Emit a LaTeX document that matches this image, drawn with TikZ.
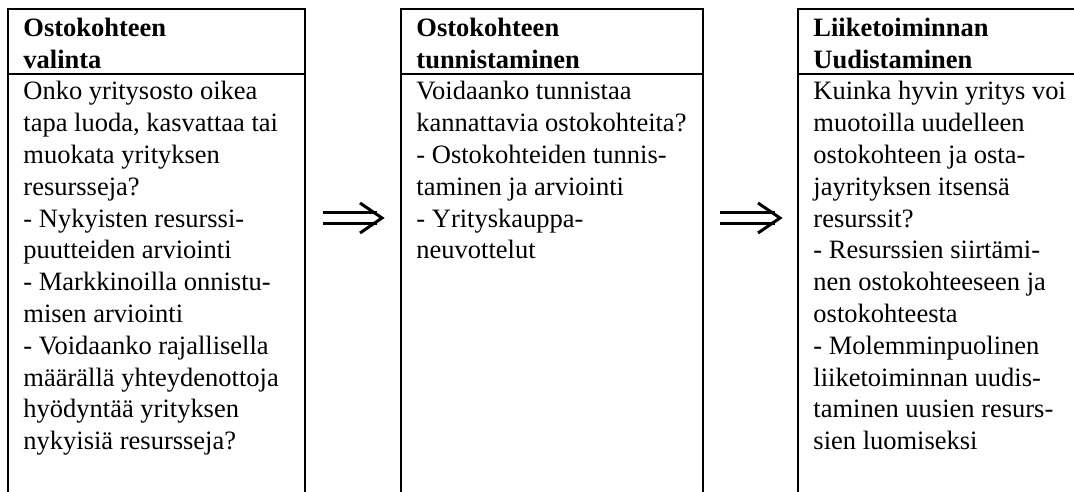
\documentclass[tikz,border=0pt]{standalone}
\usepackage{fontspec}
\setmainfont{Liberation Serif}
\usetikzlibrary{calc}
\newcommand{\cellcol}[1]{\begin{tabular}[t]{@{}l@{}}#1\end{tabular}}
\begin{document}
\begin{tikzpicture}[x=0.4529pt,y=-0.4529pt,
  frame/.style={line width=0.9pt,line cap=rect},
  headtext/.style={anchor=base west,inner sep=0pt,font=\fontsize{12pt}{14.4pt}\selectfont\bfseries},
  bodytext/.style={anchor=base west,inner sep=0pt,font=\fontsize{12pt}{14.4pt}\selectfont},
  shaft/.style={double,double distance=3.2pt,line width=1.36pt},
  chevron/.style={line width=1.36pt,line join=miter}]
\clip (0,0) rectangle (1074,491);
% frames
\draw[frame] (8,500) -- (8,9) -- (305,9) -- (305,500);
\draw[frame] (8,74) -- (305,74);
\draw[frame] (401,500) -- (401,9) -- (703,9) -- (703,500);
\draw[frame] (401,74) -- (703,74);
\draw[frame] (798,500) -- (798,9) -- (1090,9);
\draw[frame] (798,74) -- (1090,74);
% headers
\node[headtext] (h1) at (23,37) {\cellcol{Ostokohteen\\valinta}};
\node[headtext] (h2) at (416,37) {\cellcol{Ostokohteen\\tunnistaminen}};
\node[headtext] (h3) at (813,37) {\cellcol{Liiketoiminnan\\Uudistaminen}};
% bodies
\node[bodytext] (b1) at (23,100) {\cellcol{Onko yritysosto oikea\\tapa luoda, kasvattaa tai\\muokata yrityksen\\resursseja?\\- Nykyisten resurssi-\\puutteiden arviointi\\- Markkinoilla onnistu-\\misen arviointi\\- Voidaanko rajallisella\\määrällä yhteydenottoja\\hyödyntää yrityksen\\nykyisiä resursseja?}};
\node[bodytext] (b2) at (416,100) {\cellcol{Voidaanko tunnistaa\\kannattavia ostokohteita?\\- Ostokohteiden tunnis-\\taminen ja arviointi\\- Yrityskauppa-\\neuvottelut}};
\node[bodytext] (b3) at (813,100) {\cellcol{Kuinka hyvin yritys voi\\muotoilla uudelleen\\ostokohteen ja osta-\\jayrityksen itsensä\\resurssit?\\- Resurssien siirtämi-\\nen ostokohteeseen ja\\ostokohteesta\\- Molemminpuolinen\\liiketoiminnan uudis-\\taminen uusien resurs-\\sien luomiseksi}};
% arrows
\coordinate (a1s) at (323,218);
\coordinate (a1e) at (382,218);
\coordinate (a2s) at (720,218);
\coordinate (a2e) at (780,218);
\draw[shaft] (a1s) -- ($(a1e)+(-5,0)$);
\draw[chevron] ($(a1e)+(-22,-15)$) -- (a1e) -- ($(a1e)+(-22,15)$);
\draw[shaft] (a2s) -- ($(a2e)+(-5,0)$);
\draw[chevron] ($(a2e)+(-22,-15)$) -- (a2e) -- ($(a2e)+(-22,15)$);
\end{tikzpicture}
\end{document}
